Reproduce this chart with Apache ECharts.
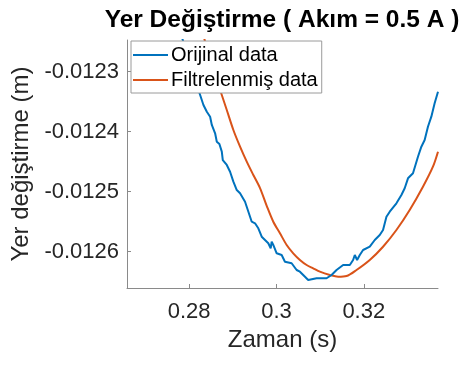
<!DOCTYPE html>
<html>
<head>
<meta charset="utf-8">
<script src="https://cdn.jsdelivr.net/npm/echarts@6/dist/echarts.min.js"></script>
<style>html,body{margin:0;padding:0;background:#fff}#c{width:471px;height:365px}</style>
</head>
<body>
<div id="c"></div>
<script>
const titleText = 'Yer Değiştirme ( Akım = 0.5 A )';
const xName = 'Zaman (s)';
const yName = 'Yer değiştirme (m)';
const seriesNames = ['Orijinal data', 'Filtrelenmiş data'];
const xTicks = [0.28, 0.3, 0.32];
const yTicks = [-0.0126, -0.0125, -0.0124, -0.0123];
const xRange = [0.26576, 0.337];
const yRange = [-0.0126605, -0.0122472];

const origX = [0.27703, 0.278469, 0.279771, 0.281143, 0.282514, 0.283269, 0.284046, 0.2848, 0.285189, 0.285943,
  0.286331, 0.286926, 0.287474, 0.287703, 0.288617, 0.289371, 0.290126, 0.290903, 0.291657, 0.2928,
  0.293189, 0.294331, 0.295086, 0.29584, 0.296617, 0.297371, 0.298126, 0.298674, 0.298903, 0.299269,
  0.300046, 0.301189, 0.301943, 0.303474, 0.304617, 0.305371, 0.306126, 0.307269, 0.309189, 0.311474,
  0.31184, 0.312617, 0.31376, 0.315269, 0.3168, 0.317554, 0.317943, 0.318469, 0.319086, 0.31984,
  0.321371, 0.322514, 0.323657, 0.324411, 0.325189, 0.325943, 0.327474, 0.328617, 0.329371, 0.330126,
  0.331269, 0.332411, 0.333189, 0.333943, 0.334697, 0.335474, 0.336229, 0.337];
const origY = [-0.0121888, -0.0122455, -0.0122805, -0.0123105, -0.0123388, -0.0123555, -0.0123667, -0.012375, -0.0123888, -0.0124027,
  -0.0124167, -0.0124205, -0.0124333, -0.0124472, -0.0124555, -0.0124667, -0.0124833, -0.0124972, -0.0125027, -0.0125167,
  -0.0125193, -0.01255, -0.0125527, -0.012561, -0.012575, -0.0125805, -0.012586, -0.0125943, -0.0125833, -0.0125888,
  -0.0126027, -0.0126055, -0.0126167, -0.0126193, -0.0126305, -0.0126333, -0.0126388, -0.0126472, -0.0126443, -0.0126443,
  -0.0126472, -0.0126388, -0.0126305, -0.0126222, -0.0126222, -0.0126138, -0.0126055, -0.0126138, -0.0126055, -0.0125972,
  -0.0125917, -0.0125805, -0.0125722, -0.0125638, -0.0125417, -0.0125333, -0.0125193, -0.0125055, -0.0124943, -0.0124777,
  -0.0124693, -0.0124417, -0.012425, -0.0124138, -0.0123917, -0.012375, -0.0123527, -0.0123333];

const filtX = [0.2824, 0.283497, 0.2848, 0.286171, 0.287474, 0.288617, 0.290126, 0.291657, 0.293189, 0.294697,
  0.296229, 0.29776, 0.299269, 0.3008, 0.302331, 0.30384, 0.305371, 0.306903, 0.308411, 0.309943,
  0.312229, 0.314126, 0.316046, 0.318331, 0.321371, 0.324411, 0.327474, 0.330514, 0.333554, 0.33584, 0.337];
const filtY = [-0.0121888, -0.0122455, -0.0122805, -0.0123105, -0.0123388, -0.0123638, -0.0123972, -0.012425, -0.01245, -0.0124722,
  -0.012494, -0.0125235, -0.01255, -0.0125693, -0.0125888, -0.0126027, -0.0126138, -0.0126222, -0.0126277, -0.0126333,
  -0.0126388, -0.0126417, -0.0126405, -0.0126305, -0.0126138, -0.0125917, -0.0125638, -0.0125305, -0.0124917, -0.0124583, -0.0124333];

const FONT = '"Liberation Sans", Arial, Helvetica, sans-serif';
const TXT = '#262626';
const AX = '#8a8a8a';
const zip = (a, b) => a.map((v, i) => [v, b[i]]);

const chart = echarts.init(document.getElementById('c'), null, {renderer: 'canvas'});
chart.setOption({
  animation: false,
  backgroundColor: '#ffffff',
  textStyle: {fontFamily: FONT},
  graphic: [{
    type: 'text', x: 282, y: 20,
    style: {text: titleText, fill: '#000', font: 'bold 24.5px ' + FONT, align: 'center', verticalAlign: 'middle'}
  }],
  grid: {left: 127, right: 33, top: 40, bottom: 77, containLabel: false},
  legend: {
    orient: 'vertical', left: 131, top: 41,
    padding: [4, 4, 3, 2], itemGap: 5, itemWidth: 35, itemHeight: 2,
    icon: 'path://M0 0H35V2H0Z',
    backgroundColor: '#ffffff', borderColor: '#9a9a9a', borderWidth: 1, borderRadius: 0,
    textStyle: {fontSize: 20, color: '#000', fontFamily: FONT, padding: [0, 0, 0, -2]},
    data: seriesNames
  },
  xAxis: {
    type: 'value', min: xRange[0], max: xRange[1],
    name: xName, nameLocation: 'middle', nameGap: 40,
    nameTextStyle: {fontSize: 24, color: TXT, fontFamily: FONT},
    axisLine: {show: true, lineStyle: {color: AX, width: 1}},
    axisTick: {show: true, inside: true, length: 4, customValues: xTicks, lineStyle: {color: AX}},
    axisLabel: {show: true, customValues: xTicks, fontSize: 22, color: TXT, margin: 13, fontFamily: FONT,
      formatter: v => String(Math.round(v * 1000) / 1000)},
    splitLine: {show: false}
  },
  yAxis: {
    type: 'value', min: yRange[0], max: yRange[1],
    name: yName, nameLocation: 'middle', nameGap: 92,
    nameTextStyle: {fontSize: 24, color: TXT, fontFamily: FONT},
    axisLine: {show: true, lineStyle: {color: AX, width: 1}},
    axisTick: {show: true, inside: true, length: 4, customValues: yTicks, lineStyle: {color: AX}},
    axisLabel: {show: true, customValues: yTicks, fontSize: 22, color: TXT, margin: 8, fontFamily: FONT,
      formatter: v => String(Math.round(v * 1e7) / 1e7)},
    splitLine: {show: false}
  },
  series: [
    {name: seriesNames[0], type: 'line', data: zip(origX, origY), showSymbol: false, symbol: 'none',
      clip: true, lineStyle: {color: '#0072BD', width: 2}, itemStyle: {color: '#0072BD'}, z: 3},
    {name: seriesNames[1], type: 'line', data: zip(filtX, filtY), showSymbol: false, symbol: 'none', smooth: 0.3,
      clip: true, lineStyle: {color: '#D95319', width: 2}, itemStyle: {color: '#D95319'}, z: 2}
  ]
});
</script>
</body>
</html>
